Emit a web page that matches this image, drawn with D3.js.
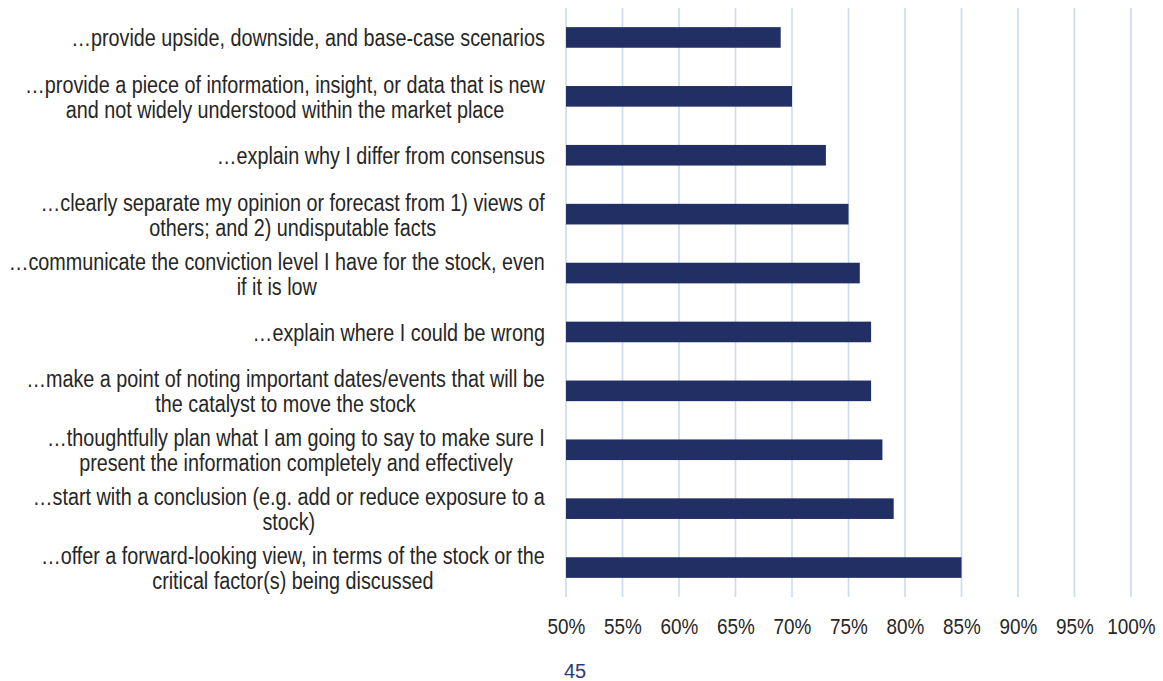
<!DOCTYPE html>
<html>
<head>
<meta charset="utf-8">
<script src="https://cdn.jsdelivr.net/npm/d3@7"></script>
<style>
  html, body { margin: 0; padding: 0; background: #ffffff; }
  svg { display: block; }
  text { font-family: "Liberation Sans", Arial, sans-serif; }
</style>
</head>
<body>
<svg id="chart" width="1163" height="681"></svg>
<script>
// Survey statements (top to bottom), each split into its display lines
const statements = [
  ["…provide upside, downside, and base-case scenarios"],
  ["…provide a piece of information, insight, or data that is new", "and not widely understood within the market place"],
  ["…explain why I differ from consensus"],
  ["…clearly separate my opinion or forecast from 1) views of", "others; and 2) undisputable facts"],
  ["…communicate the conviction level I have for the stock, even", "if it is low"],
  ["…explain where I could be wrong"],
  ["…make a point of noting important dates/events that will be", "the catalyst to move the stock"],
  ["…thoughtfully plan what I am going to say to make sure I", "present the information completely and effectively"],
  ["…start with a conclusion (e.g. add or reduce exposure to a", "stock)"],
  ["…offer a forward-looking view, in terms of the stock or the", "critical factor(s) being discussed"]
];

// Share of respondents for each statement
const shares = [0.69, 0.70, 0.73, 0.75, 0.76, 0.77, 0.77, 0.78, 0.79, 0.85];

// Axis ticks
const tickValues = [0.50, 0.55, 0.60, 0.65, 0.70, 0.75, 0.80, 0.85, 0.90, 0.95, 1.00];

const pageNumber = "45";

const svg = d3.select("#chart");
const plot = { left: 566, right: 1131, top: 8, bottom: 597 };
const squeeze = 0.86;   // slightly condensed lettering

const x = d3.scaleLinear().domain([0.5, 1.0]).range([plot.left, plot.right]);
const y = d3.scaleBand()
  .domain(d3.range(statements.length))
  .range([plot.top, plot.bottom])
  .paddingInner(0.65)
  .paddingOuter(0.325);

// Vertical gridlines
svg.append("g")
  .selectAll("line")
  .data(tickValues)
  .join("line")
  .attr("x1", d => x(d)).attr("x2", d => x(d))
  .attr("y1", plot.top).attr("y2", plot.bottom)
  .attr("stroke", "#c9dbef")
  .attr("stroke-width", 1.6);

// Bars
svg.append("g")
  .selectAll("rect")
  .data(shares)
  .join("rect")
  .attr("x", x(0.5))
  .attr("y", (d, i) => y(i))
  .attr("width", d => x(d) - x(0.5))
  .attr("height", y.bandwidth())
  .attr("fill", "#212f64");

// X axis tick labels
const xAxis = d3.axisBottom(x)
  .tickValues(tickValues)
  .tickFormat(d3.format(".0%"))
  .tickSize(0)
  .tickPadding(0);

const axisG = svg.append("g")
  .attr("transform", `translate(0,634)`)
  .call(xAxis);
axisG.select(".domain").remove();
axisG.selectAll("text")
  .attr("y", 0)
  .attr("dy", 0)
  .attr("font-family", "Liberation Sans, Arial, sans-serif")
  .attr("font-size", 22)
  .attr("fill", "#262626")
  .attr("transform", `scale(${squeeze},1)`);

// Category labels: block right-aligned to the plot, lines centred within block
const labelRight = 545;
const lineGap = 25;
const labelsG = svg.append("g");
statements.forEach((lines, i) => {
  const cy = y(i) + y.bandwidth() / 2;
  const texts = labelsG.append("g").selectAll("text")
    .data(lines)
    .join("text")
    .attr("font-size", 23)
    .attr("fill", "#262626")
    .attr("text-anchor", "middle")
    .text(d => d);
  let maxW = 0;
  texts.each(function () { maxW = Math.max(maxW, this.getComputedTextLength() * squeeze); });
  texts.attr("transform", (d, k) =>
    `translate(${labelRight - maxW / 2},${cy + 9 + (k - (lines.length - 1) / 2) * lineGap}) scale(${squeeze},1)`);
});

// Page number
svg.append("text")
  .attr("x", 575)
  .attr("y", 678)
  .attr("text-anchor", "middle")
  .attr("font-size", 20)
  .attr("fill", "#2b3a78")
  .text(pageNumber);
</script>
</body>
</html>
